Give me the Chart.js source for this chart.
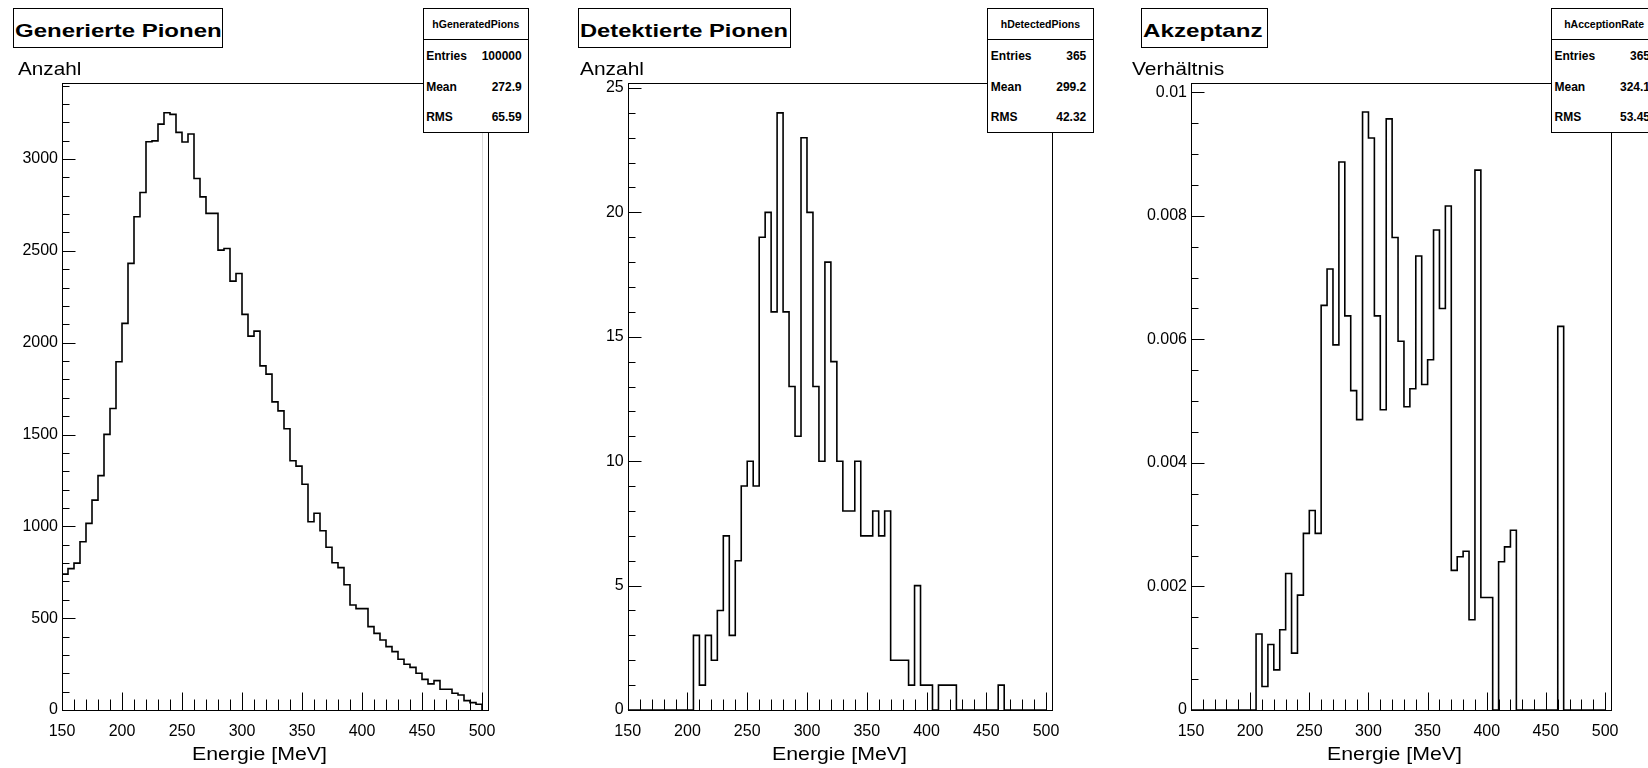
<!DOCTYPE html>
<html>
<head>
<meta charset="utf-8">
<script src="https://cdn.jsdelivr.net/npm/chart.js@4.4.0/dist/chart.umd.min.js"></script>
<style>
  html, body { margin: 0; padding: 0; background: #fff; }
  body { width: 1648px; height: 768px; position: relative; overflow: hidden;
         font-family: "Liberation Sans", Arial, Helvetica, sans-serif; color: #000; }
  canvas.layer { position: absolute; left: 0; top: 0; }
  .txt { position: absolute; white-space: nowrap; line-height: 1; transform-origin: 0 0; }
  .box { position: absolute; border: 1px solid #000; background: #fff; box-sizing: border-box; }
  .sep { position: absolute; height: 0; border-top: 1px solid #000; }
</style>
</head>
<body>
<script>
// histogram binning (5 MeV bins from 150 to 500 MeV)
const BIN_START = 150;
const BIN_WIDTH = 5;

// hGeneratedPions, counts per bin
const generated = [
  740, 770, 800, 916, 1016, 1143, 1276, 1501, 1642, 1896,
  2105, 2432, 2686, 2818, 3094, 3099, 3190, 3252, 3243, 3145,
  3093, 3136, 2894, 2794, 2704, 2704, 2504, 2513, 2335, 2377,
  2154, 2036, 2063, 1874, 1829, 1678, 1629, 1531, 1357, 1328,
  1229, 1025, 1071, 976, 886, 802, 775, 682, 572, 552,
  552, 454, 417, 381, 345, 318, 276, 249, 232, 200,
  167, 142, 160, 113, 113, 91, 82, 51, 40, 31
];

// hDetectedPions, counts per bin
const detected = [
  0, 0, 0, 0, 0, 0, 0, 0, 0, 0,
  0, 3, 1, 3, 2, 4, 7, 3, 6, 9,
  10, 9, 19, 20, 16, 24, 16, 13, 11, 23,
  20, 13, 10, 18, 14, 10, 8, 8, 10, 7,
  7, 8, 7, 8, 2, 2, 2, 1, 5, 1,
  1, 0, 1, 1, 1, 0, 0, 0, 0, 0,
  0, 0, 1, 0, 0, 0, 0, 0, 0, 0
];

// hAcceptionRate, ratio per bin
const acceptance = [
  0, 0, 0, 0, 0, 0, 0, 0, 0, 0,
  0, 0.00123, 0.00038, 0.00106, 0.00065, 0.00130, 0.00221, 0.00092, 0.00186, 0.00286,
  0.00323, 0.00286, 0.00655, 0.00714, 0.00591, 0.00887, 0.00638, 0.00517, 0.00470, 0.00968,
  0.00926, 0.00638, 0.00486, 0.00957, 0.00765, 0.00597, 0.00491, 0.00520, 0.00735, 0.00527,
  0.00567, 0.00777, 0.00650, 0.00816, 0.00226, 0.00248, 0.00257, 0.00146, 0.00874, 0.00182,
  0.00182, 0, 0.00240, 0.00264, 0.00291, 0, 0, 0, 0, 0,
  0, 0, 0.00621, 0, 0, 0, 0, 0, 0, 0
];

// tick labels
const xTicks = [150, 200, 250, 300, 350, 400, 450, 500];
const yTicksGen = [0, 500, 1000, 1500, 2000, 2500, 3000];
const yLabelsGen = ['0', '500', '1000', '1500', '2000', '2500', '3000'];
const yTicksDet = [0, 5, 10, 15, 20, 25];
const yLabelsDet = ['0', '5', '10', '15', '20', '25'];
const yTicksAcc = [0, 0.002, 0.004, 0.006, 0.008, 0.01];
const yLabelsAcc = ['0', '0.002', '0.004', '0.006', '0.008', '0.01'];

// texts
const titles = ['Generierte Pionen', 'Detektierte Pionen', 'Akzeptanz'];
const yTitles = ['Anzahl', 'Anzahl', 'Verhältnis'];
const xTitle = 'Energie [MeV]';
const statHeaders = ['hGeneratedPions', 'hDetectedPions', 'hAcceptionRate'];
const statNames = ['Entries', 'Mean', 'RMS'];
const statValues = [
  ['100000', '272.9', '65.59'],
  ['365', '299.2', '42.32'],
  ['365', '324.1', '53.45']
];

const W = 1648, H = 768;
const YW = 60, XH = 50;
const FONT = '"Liberation Sans", Arial, Helvetica, sans-serif';

const panels = [
  { values: generated, ymax: 3414, yTicks: yTicksGen, yLabels: yLabelsGen, yMinor: 100, yRatio: 5, ghost: 500,
    frame: { l: 62, r: 488, t: 83, b: 710 },
    titleBox: { x: 13.3, w: 210, tx: 15, tw: 206.7 },
    yTitle: { x: 18.3, w: 63.4 }, xTitle: { x: 191.7 }, stat: { x: 422.7 } },
  { values: detected, ymax: 25.2, yTicks: yTicksDet, yLabels: yLabelsDet, yMinor: 1, yRatio: 5, ghost: null,
    frame: { l: 627.7, r: 1052, t: 83, b: 710 },
    titleBox: { x: 578.3, w: 212.4, tx: 580, tw: 208 },
    yTitle: { x: 580, w: 64 }, xTitle: { x: 771.7 }, stat: { x: 987.3 } },
  { values: acceptance, ymax: 0.01015, yTicks: yTicksAcc, yLabels: yLabelsAcc, yMinor: 0.0005, yRatio: 4, ghost: null,
    frame: { l: 1191, r: 1611, t: 83, b: 710 },
    titleBox: { x: 1141, w: 127, tx: 1143.2, tw: 119.6 },
    yTitle: { x: 1131.5, w: 92.3 }, xTitle: { x: 1327 }, stat: { x: 1551 } }
];

// ROOT style frame and inward tick marks
const rootAxes = {
  id: 'rootAxes',
  beforeDatasetsDraw(chart, args, o) {
    // faint rendering line at the histogram's upper edge (seen in the first pad)
    if (o.ghost == null) return;
    const { ctx, chartArea: a, scales: { x } } = chart;
    const px = Math.round(x.getPixelForValue(o.ghost)) + 0.5;
    ctx.save();
    ctx.strokeStyle = '#dcdcdc';
    ctx.lineWidth = 1;
    ctx.beginPath();
    ctx.moveTo(px, a.top);
    ctx.lineTo(px, a.bottom);
    ctx.stroke();
    ctx.restore();
  },
  afterDatasetsDraw(chart, args, o) {
    const { ctx, chartArea: a, scales: { x, y } } = chart;
    ctx.save();
    ctx.strokeStyle = '#000';
    ctx.lineWidth = 1;
    const L = Math.round(a.left) + 0.5, R = Math.round(a.right) + 0.5;
    const T = Math.round(a.top) + 0.5, B = Math.round(a.bottom) + 0.5;
    ctx.strokeRect(L, T, R - L, B - T);
    ctx.beginPath();
    for (let k = 0; ; k++) {
      const v = x.min + k * 10;
      if (v > x.max) break;
      const px = Math.round(x.getPixelForValue(v)) + 0.5;
      const len = k % 5 === 0 ? 18 : 11;
      ctx.moveTo(px, B);
      ctx.lineTo(px, B - len);
    }
    for (let k = 0; ; k++) {
      const v = k * o.yMinor;
      if (v > y.max) break;
      const py = Math.round(y.getPixelForValue(v)) + 0.5;
      const len = k % o.yRatio === 0 ? 13 : 7;
      ctx.moveTo(L, py);
      ctx.lineTo(L + len, py);
    }
    ctx.stroke();
    ctx.restore();
  }
};

function histPoints(values) {
  const pts = [{ x: BIN_START, y: 0 }];
  values.forEach((v, i) => pts.push({ x: BIN_START + i * BIN_WIDTH, y: v }));
  const end = BIN_START + values.length * BIN_WIDTH;
  pts.push({ x: end, y: values[values.length - 1] });
  pts.push({ x: end, y: 0 });
  return pts;
}

function makeChart(p) {
  const cv = document.createElement('canvas');
  cv.className = 'layer';
  cv.width = W; cv.height = H;
  document.body.appendChild(cv);
  const f = p.frame;
  new Chart(cv, {
    type: 'line',
    data: {
      datasets: [{
        data: histPoints(p.values),
        stepped: 'before',
        borderColor: '#000',
        borderWidth: 1.6,
        pointRadius: 0,
        fill: false,
        tension: 0
      }]
    },
    options: {
      responsive: false,
      animation: false,
      events: [],
      layout: { padding: { left: f.l - YW, right: W - f.r, top: f.t, bottom: H - f.b - XH } },
      plugins: { legend: { display: false }, tooltip: { enabled: false },
                 rootAxes: { yMinor: p.yMinor, yRatio: p.yRatio, ghost: p.ghost } },
      scales: {
        x: {
          type: 'linear', min: 150, max: 505,
          afterFit: s => { s.height = XH; },
          afterBuildTicks: s => { s.ticks = xTicks.map(v => ({ value: v })); },
          grid: { display: false, drawTicks: false },
          border: { display: false },
          ticks: { color: '#000', font: { family: FONT, size: 16 }, padding: 12, maxRotation: 0, autoSkip: false }
        },
        y: {
          type: 'linear', min: 0, max: p.ymax,
          afterFit: s => { s.width = YW; },
          afterBuildTicks: s => { s.ticks = p.yTicks.map(v => ({ value: v })); },
          grid: { display: false, drawTicks: false },
          border: { display: false },
          ticks: { color: '#000', font: { family: FONT, size: 16 }, padding: 4, autoSkip: false,
                   callback: (v, i) => p.yLabels[i] }
        }
      }
    },
    plugins: [rootAxes]
  });
}

// real text placed by baseline; optionally stretched to a target width
function addText(str, left, baseline, size, weight, width, alignRight) {
  const el = document.createElement('div');
  el.className = 'txt';
  el.textContent = str;
  el.style.fontSize = size + 'px';
  el.style.fontWeight = weight;
  document.body.appendChild(el);
  const nat = el.getBoundingClientRect().width;
  const sx = width ? width / nat : 1;
  el.style.left = (alignRight ? left - nat * sx : left) + 'px';
  el.style.top = (baseline - 0.8465 * size) + 'px';
  el.style.transform = 'scaleX(' + sx + ')';
  return el;
}

function addBox(x, y, w, h) {
  const el = document.createElement('div');
  el.className = 'box';
  Object.assign(el.style, { left: x + 'px', top: y + 'px', width: w + 'px', height: h + 'px' });
  document.body.appendChild(el);
}

panels.forEach(makeChart);

const STAT_W = 106.3, STAT_TOP = 8.3, STAT_BOTTOM = 132.7, STAT_SEP = 39;
panels.forEach((p, i) => {
  // title box
  addBox(p.titleBox.x, 8.3, p.titleBox.w, 40);
  addText(titles[i], p.titleBox.tx, 37, 19, 'bold', p.titleBox.tw);
  // axis titles
  addText(yTitles[i], p.yTitle.x, 75.5, 19, 'normal', p.yTitle.w);
  addText(xTitle, p.xTitle.x, 760, 18, 'normal', 135);
  // statistics box
  const sx = p.stat.x;
  addBox(sx, STAT_TOP, STAT_W, STAT_BOTTOM - STAT_TOP);
  const sep = document.createElement('div');
  sep.className = 'sep';
  Object.assign(sep.style, { left: sx + 'px', top: STAT_SEP + 'px', width: STAT_W + 'px' });
  document.body.appendChild(sep);
  const hd = addText(statHeaders[i], 0, 27.5, 10.5, 'bold');
  hd.style.left = (sx + (STAT_W - hd.getBoundingClientRect().width) / 2) + 'px';
  const rows = [60, 91.5, 121.5];
  statNames.forEach((n, j) => {
    addText(n, sx + 3.5, rows[j], 12, 'bold');
    addText(statValues[i][j], sx + STAT_W - 7.3, rows[j], 12, 'bold', 0, true);
  });
});
</script>
</body>
</html>
